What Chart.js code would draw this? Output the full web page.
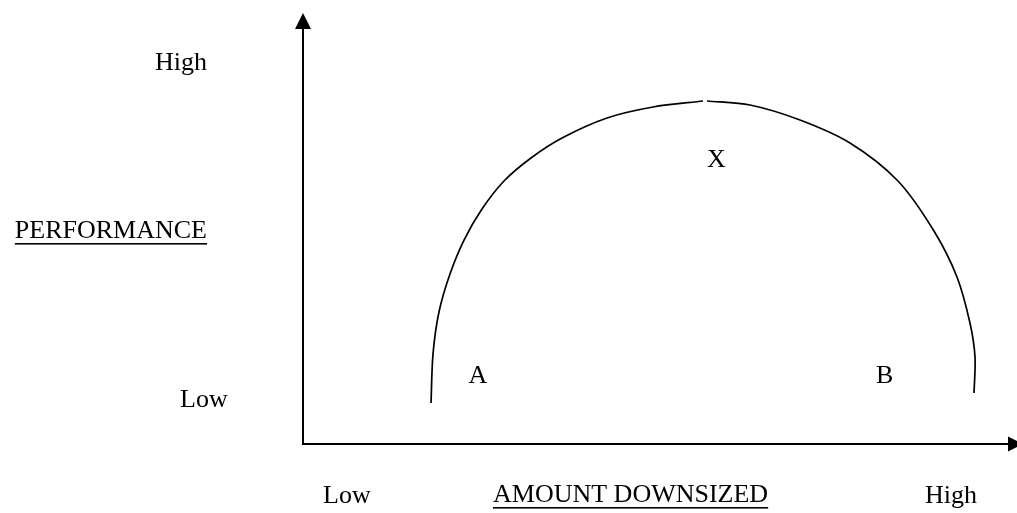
<!DOCTYPE html>
<html>
<head>
<meta charset="utf-8">
<script src="https://cdn.jsdelivr.net/npm/chart.js@4/dist/chart.umd.min.js"></script>
<style>
  html, body { margin: 0; padding: 0; background: #fff; }
  #wrap { width: 1017px; height: 513px; }
</style>
</head>
<body>
<div id="wrap"><canvas id="c" width="1017" height="513"></canvas></div>
<script>
// ---- Data (units: 0-100 on each axis) ----
const leftArcX  = [18.03, 18.31, 19.15, 20.70, 22.68, 25.21, 28.31, 32.11, 36.48, 42.82, 49.30, 56.34];
const leftArcY  = [ 9.53, 20.93, 30.70, 39.53, 47.44, 54.65, 61.16, 66.51, 71.16, 75.81, 78.37, 79.77];
const rightArcX = [56.90, 62.96, 70.00, 77.04, 83.80, 88.87, 92.11, 93.94, 94.65, 94.51];
const rightArcY = [79.77, 78.84, 75.35, 70.00, 61.16, 49.53, 38.84, 28.14, 20.23, 11.86];

const pointLabels = ['A', 'X', 'B'];
const pointLabelX = [23.3, 56.9, 80.7];
const pointLabelY = [14.2, 64.4, 14.2];

const yAxisLabels = ['High', 'PERFORMANCE', 'Low'];
const xAxisLabels = ['Low', 'AMOUNT DOWNSIZED', 'High'];

const toPts = (xs, ys) => xs.map((x, i) => ({ x: x, y: ys[i] }));

const FONT = '26px "Liberation Serif", "Times New Roman", serif';

const decorPlugin = {
  id: 'decor',
  afterDatasetsDraw(chart) {
    const ctx = chart.ctx;
    const xs = chart.scales.x, ys = chart.scales.y;
    const ox = xs.getPixelForValue(0), oy = ys.getPixelForValue(0);
    const top = chart.chartArea.top, right = chart.chartArea.right;
    ctx.save();
    ctx.strokeStyle = '#000';
    ctx.fillStyle = '#000';
    ctx.lineWidth = 2;
    ctx.beginPath();
    ctx.moveTo(ox, top + 10);
    ctx.lineTo(ox, oy);
    ctx.lineTo(right, oy);
    ctx.stroke();
    ctx.beginPath();
    ctx.moveTo(ox, top - 1);
    ctx.lineTo(ox - 8, top + 15);
    ctx.lineTo(ox + 8, top + 15);
    ctx.closePath();
    ctx.fill();
    ctx.beginPath();
    ctx.moveTo(right + 10, oy);
    ctx.lineTo(right - 5, oy - 7.5);
    ctx.lineTo(right - 5, oy + 7.5);
    ctx.closePath();
    ctx.fill();

    ctx.font = FONT;
    ctx.textBaseline = 'alphabetic';
    const txt = (s, x, y, align, underline) => {
      ctx.textAlign = align;
      ctx.fillText(s, x, y);
      if (underline) {
        const w = ctx.measureText(s).width;
        const x0 = align === 'right' ? x - w : x;
        ctx.fillRect(x0, y + 5, w, 1.6);
      }
    };
    txt(yAxisLabels[0], ox - 148, top + 56, 'left', false);
    txt(yAxisLabels[1], ox - 96, top + 224, 'right', true);
    txt(yAxisLabels[2], ox - 123, oy - 37, 'left', false);
    txt(xAxisLabels[0], ox + 20, oy + 59, 'left', false);
    txt(xAxisLabels[1], ox + 190, oy + 58, 'left', true);
    txt(xAxisLabels[2], ox + 622, oy + 59, 'left', false);
    pointLabels.forEach((s, i) => {
      txt(s, xs.getPixelForValue(pointLabelX[i]), ys.getPixelForValue(pointLabelY[i]), 'left', false);
    });
    ctx.restore();
  }
};

new Chart(document.getElementById('c'), {
  type: 'line',
  data: {
    datasets: [
      { data: toPts(leftArcX, leftArcY), borderColor: '#000', borderWidth: 1.7,
        pointRadius: 0, tension: 0.3, fill: false },
      { data: toPts(rightArcX, rightArcY), borderColor: '#000', borderWidth: 1.7,
        pointRadius: 0, tension: 0.3, fill: false }
    ]
  },
  options: {
    responsive: false,
    animation: false,
    devicePixelRatio: 1,
    layout: { padding: { left: 303, right: 4, top: 14, bottom: 69 } },
    elements: { line: { capBezierPoints: false } },
    scales: {
      x: { type: 'linear', min: 0, max: 100, display: false },
      y: { type: 'linear', min: 0, max: 100, display: false }
    },
    plugins: { legend: { display: false }, tooltip: { enabled: false } },
    events: []
  },
  plugins: [decorPlugin]
});
</script>
</body>
</html>
